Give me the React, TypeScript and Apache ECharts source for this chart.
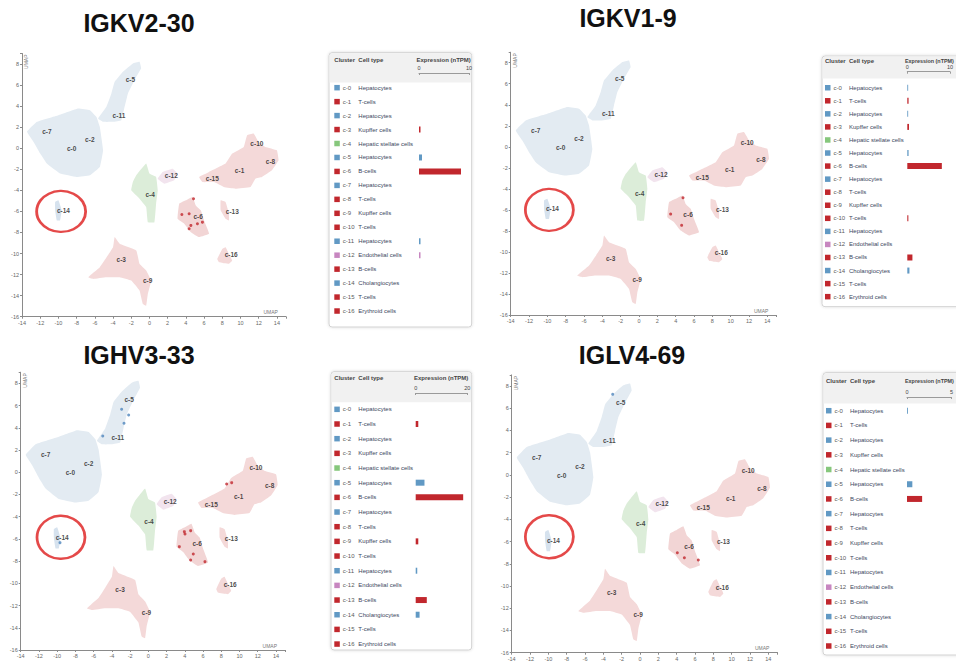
import React, { useEffect, useRef } from 'react';
import * as echarts from 'echarts';

// ---------------- data ----------------
const GENES = ['IGKV2-30', 'IGKV1-9', 'IGHV3-33', 'IGLV4-69'];
const CLUSTERS = ['c-0','c-1','c-2','c-3','c-4','c-5','c-6','c-7','c-8','c-9','c-10','c-11','c-12','c-13','c-14','c-15','c-16'];
const CELL_TYPES = ['Hepatocytes','T-cells','Hepatocytes','Kupffer cells','Hepatic stellate cells','Hepatocytes','B-cells','Hepatocytes','T-cells','Kupffer cells','T-cells','Hepatocytes','Endothelial cells','B-cells','Cholangiocytes','T-cells','Erythroid cells'];
const CELL_COLOR_KEY = ['B','R','B','R','G','B','R','B','R','R','R','B','P','R','B','R','R'];

// expression (nTPM) per cluster
const EXPR_IGKV2_30 = [0, 0, 0, 0.3, 0, 0.6, 8.4, 0, 0, 0, 0, 0.3, 0.3, 0, 0, 0, 0];
const EXPR_IGKV1_9 = [0.2, 0.3, 0.2, 0.4, 0, 0.3, 8.1, 0, 0, 0, 0.25, 0, 0, 1.2, 0.5, 0, 0];
const EXPR_IGHV3_33 = [0, 1.0, 0, 0, 0, 3.4, 18.4, 0, 0, 1.0, 0, 0.6, 0, 4.3, 1.5, 0, 0];
const EXPR_IGLV4_69 = [0.1, 0, 0, 0, 0, 0.6, 1.7, 0, 0, 0, 0, 0, 0, 0, 0, 0, 0];
const SCALE_MAX = [10, 10, 20, 5];

// UMAP cluster label positions
const LABEL_X = [-8.55, 9.9, -6.55, -3.1, 0.07, -2.1, 5.35, -11.27, 13.3, -0.2, 11.8, -3.35, 2.4, 9.1, -9.45, 6.9, 8.98];
const LABEL_Y = [-0.06, -2.16, 0.8, -10.6, -4.4, 6.54, -6.44, 1.56, -1.24, -12.6, 0.44, 3.14, -2.6, -5.97, -5.9, -2.9, -10.1];

// UMAP cluster outlines
const OUTLINE_HEP_MAIN = [[-13.45,1.56],[-12.36,2.51],[-10.0,3.14],[-7.82,3.78],[-6.55,3.62],[-5.82,2.98],[-5.45,2.03],[-5.09,-0.19],[-5.45,-1.78],[-6.55,-2.57],[-8.0,-2.73],[-9.82,-2.41],[-11.27,-1.46],[-12.0,-0.51],[-12.73,0.6]];
const OUTLINE_HEP_UPPER = [[-5.64,2.83],[-4.73,3.94],[-4.18,5.21],[-3.82,6.32],[-2.91,7.27],[-1.82,8.06],[-1.09,8.22],[-0.91,7.59],[-1.64,6.48],[-2.36,5.21],[-2.73,3.94],[-3.09,2.67],[-4.0,2.51],[-5.09,2.51]];
const OUTLINE_STELLATE = [[-1.45,-2.57],[-0.36,-1.46],[0.0,-2.41],[0.73,-2.73],[0.91,-4.0],[0.73,-5.27],[0.55,-7.02],[-0.18,-7.02],[-0.36,-5.59],[-1.09,-4.79],[-2.0,-4.0],[-1.82,-3.21]];
const OUTLINE_ENDO = [[0.91,-2.89],[1.45,-2.25],[2.55,-1.94],[3.09,-2.41],[2.73,-3.05],[1.64,-3.37]];
const OUTLINE_TCELL = [[5.45,-2.73],[6.55,-2.25],[8.36,-1.46],[9.09,-0.51],[10.36,0.13],[10.73,1.24],[11.45,1.4],[12.0,0.6],[12.73,0.13],[14.0,-0.19],[14.18,-1.14],[13.45,-2.1],[12.36,-2.73],[11.64,-2.89],[11.09,-3.68],[9.45,-3.84],[8.18,-3.68],[7.09,-3.21],[5.82,-3.21]];
const OUTLINE_BCELL = [[3.27,-5.27],[4.0,-4.95],[4.73,-4.63],[5.09,-5.43],[5.64,-5.9],[6.0,-6.86],[6.55,-8.13],[5.45,-8.44],[4.55,-7.97],[3.82,-7.17],[3.09,-6.7]];
const OUTLINE_C13 = [[7.82,-4.95],[8.36,-5.11],[8.73,-6.22],[8.73,-6.86],[8.36,-6.7],[7.82,-5.9]];
const OUTLINE_C16 = [[8.0,-9.56],[8.36,-9.4],[8.73,-10.03],[9.09,-10.67],[8.73,-10.98],[7.64,-10.83],[7.45,-10.51]];
const OUTLINE_KUPFFER = [[-6.73,-12.25],[-5.45,-11.3],[-4.0,-9.4],[-3.82,-8.44],[-3.27,-9.08],[-1.45,-9.71],[-1.09,-10.98],[-0.36,-11.62],[0.18,-12.57],[-0.18,-13.84],[-0.36,-14.95],[-0.73,-14.79],[-1.09,-13.52],[-2.0,-12.57],[-3.27,-12.25],[-4.73,-12.25],[-6.18,-12.41]];
const OUTLINE_C14 = [[-10.36,-5.11],[-10.0,-4.95],[-9.64,-5.9],[-9.82,-6.86],[-10.18,-6.86],[-10.36,-5.9]];

// highlighted cells per gene
const RED_DOTS_IGKV2_30 = [[4.84,-4.79],[3.56,-6.29],[4.36,-6.22],[4.55,-7.33],[4.36,-7.65],[5.27,-7.17],[5.82,-7.02]];
const RED_DOTS_IGKV1_9 = [[4.8,-4.84],[3.45,-6.4],[4.65,-7.47]];
const RED_DOTS_IGHV3_33 = [[3.95,-5.35],[4.64,-5.26],[4.02,-5.56],[3.4,-6.7],[4.93,-7.36],[4.64,-7.9],[6.21,-8.05],[8.59,-1.06],[9.14,-0.94]];
const RED_DOTS_IGLV4_69 = [[4.07,-7.0],[4.84,-7.45],[6.36,-7.66]];
const BLUE_DOTS_IGKV2_30: number[][] = [];
const BLUE_DOTS_IGKV1_9: number[][] = [];
const BLUE_DOTS_IGHV3_33 = [[-2.93,5.66],[-2.16,5.15],[-2.67,4.4],[-5.0,3.26],[-9.69,-6.34]];
const BLUE_DOTS_IGLV4_69 = [[-2.98,7.25]];

// circled cluster (c-14)
const CIRCLE_CENTER = [[-9.7,-6.0],[-9.78,-6.0],[-9.58,-5.86],[-9.89,-5.56]];

// ---------------- styling / layout ----------------
const FONT = 'Liberation Sans, Arial, Helvetica, sans-serif';
const KEY_COLOR: Record<string, string> = { B: '#6199c4', R: '#c1272d', G: '#86c77c', P: '#c786c0' };

const EXPRS = [EXPR_IGKV2_30, EXPR_IGKV1_9, EXPR_IGHV3_33, EXPR_IGLV4_69];
const RED_DOTS = [RED_DOTS_IGKV2_30, RED_DOTS_IGKV1_9, RED_DOTS_IGHV3_33, RED_DOTS_IGLV4_69];
const BLUE_DOTS = [BLUE_DOTS_IGKV2_30, BLUE_DOTS_IGKV1_9, BLUE_DOTS_IGHV3_33, BLUE_DOTS_IGLV4_69];

const SHAPES = [
  { pts: OUTLINE_HEP_MAIN, fill: '#e3ebf2' },
  { pts: OUTLINE_HEP_UPPER, fill: '#e3ebf2' },
  { pts: OUTLINE_STELLATE, fill: '#dcedd9' },
  { pts: OUTLINE_ENDO, fill: '#f2e4ee' },
  { pts: OUTLINE_TCELL, fill: '#f4d9d9' },
  { pts: OUTLINE_BCELL, fill: '#f2d5d5' },
  { pts: OUTLINE_C13, fill: '#f4d9d9' },
  { pts: OUTLINE_C16, fill: '#f4d9d9' },
  { pts: OUTLINE_KUPFFER, fill: '#f4d9d9' },
  { pts: OUTLINE_C14, fill: '#d6e2ee' },
];

const LAYOUT = [
  { title: [139, 23], sc: { left: 22, top: 53.5, width: 264, height: 263.2 }, circle: [49, 41],
    tbl: { left: 329, top: 52.7, right: 471.7, bottom: 327, headEnd: 82, headY: 60, lineY: 73, gridTop: 80.7, gridH: 237.3, barLeft: 419, barW: 50, sqX: 334.3, expFont: 6, expX: 416.5 } },
  { title: [628, 18], sc: { left: 510.7, top: 52.2, width: 265.8, height: 262.8 }, circle: [48, 42],
    tbl: { left: 822, top: 56, right: 1000, bottom: 306.7, headEnd: 78, headY: 60.5, lineY: 71.7, gridTop: 81.2, gridH: 222, barLeft: 907.3, barW: 50, sqX: 825, expFont: 5.4, expX: 905 } },
  { title: [139, 355], sc: { left: 20.7, top: 372.2, width: 264.4, height: 277.8 }, circle: [48, 43],
    tbl: { left: 331, top: 371.7, right: 471.7, bottom: 650, headEnd: 401.7, headY: 378.3, lineY: 393, gridTop: 402, gridH: 249.4, barLeft: 415.7, barW: 51.6, sqX: 334.3, expFont: 6, expX: 414 } },
  { title: [632, 355], sc: { left: 511.7, top: 374.9, width: 265.8, height: 277.8 }, circle: [48, 43],
    tbl: { left: 823, top: 372.7, right: 1000, bottom: 655, headEnd: 403, headY: 380.7, lineY: 397, gridTop: 403.35, gridH: 250, barLeft: 907, barW: 50, sqX: 826, expFont: 5.4, expX: 905 } },
];

function buildOption() {
  const grid: any[] = [];
  const xAxis: any[] = [];
  const yAxis: any[] = [];
  const series: any[] = [];
  const graphic: any[] = [];

  LAYOUT.forEach((L) => {
    grid.push({ left: L.sc.left, top: L.sc.top, width: L.sc.width, height: L.sc.height });
  });
  LAYOUT.forEach((L) => {
    const t = L.tbl;
    grid.push({ left: t.barLeft, top: t.gridTop, width: t.barW, height: t.gridH });
  });

  const axisCommon = {
    axisLine: { onZero: false, lineStyle: { color: '#8a8a8a', width: 1 } },
    axisTick: { length: 2, lineStyle: { color: '#8a8a8a' } },
    splitLine: { show: false },
  };

  LAYOUT.forEach((L, i) => {
    xAxis.push({
      gridIndex: i, type: 'value', min: -14, max: 15, interval: 2, ...axisCommon,
      axisLabel: { fontSize: 5.5, color: '#666', margin: 3, fontFamily: FONT,
        formatter: (v: number) => (v % 2 === 0 ? String(v) : '') },
    });
    yAxis.push({
      gridIndex: i, type: 'value', min: -16, max: 9, interval: 2, ...axisCommon,
      axisLabel: { fontSize: 5.5, color: '#666', margin: 3, fontFamily: FONT,
        formatter: (v: number) => (v % 2 === 0 ? String(v) : '') },
    });
  });

  const rich: any = {
    sqB: { width: 5.5, height: 5.5, backgroundColor: KEY_COLOR.B },
    sqR: { width: 5.5, height: 5.5, backgroundColor: KEY_COLOR.R },
    sqG: { width: 5.5, height: 5.5, backgroundColor: KEY_COLOR.G },
    sqP: { width: 5.5, height: 5.5, backgroundColor: KEY_COLOR.P },
    cl: { fontSize: 6, color: '#5a5a5a', width: 15.5, padding: [0, 0, 0, 3], fontFamily: FONT },
    ct: { fontSize: 6, color: '#3a4660', fontFamily: FONT },
  };

  LAYOUT.forEach((L, i) => {
    const t = L.tbl;
    xAxis.push({
      gridIndex: 4 + i, type: 'value', position: 'top', offset: t.gridTop - t.lineY,
      min: 0, max: SCALE_MAX[i], interval: SCALE_MAX[i],
      axisLine: { show: true, lineStyle: { color: '#9a9a9a', width: 1 } },
      axisTick: { show: true, inside: true, length: 2, lineStyle: { color: '#9a9a9a' } },
      axisLabel: { fontSize: 5.5, color: '#444', margin: 2, fontFamily: FONT },
      splitLine: { show: false },
    });
    yAxis.push({
      gridIndex: 4 + i, type: 'category', data: CLUSTERS, inverse: true,
      axisLine: { show: false }, axisTick: { show: false },
      axisLabel: {
        interval: 0, align: 'left', margin: t.barLeft - t.sqX,
        formatter: (v: string, idx: number) => `{sq${CELL_COLOR_KEY[idx]}|}{cl|${v}}{ct|${CELL_TYPES[idx]}}`,
        rich,
      },
    });
  });

  LAYOUT.forEach((L, i) => {
    series.push({
      type: 'custom', xAxisIndex: i, yAxisIndex: i, silent: true, z: 1,
      data: SHAPES.map((s) => s.pts[0]),
      renderItem: (params: any, api: any) => {
        const s = SHAPES[params.dataIndex];
        return {
          type: 'polygon',
          shape: { points: s.pts.map((p) => api.coord(p)), smooth: 0.08 },
          style: { fill: s.fill },
        };
      },
    });
    series.push({
      type: 'scatter', xAxisIndex: i, yAxisIndex: i, symbolSize: 3, z: 3,
      itemStyle: { color: '#c1272d' }, data: RED_DOTS[i],
    });
    series.push({
      type: 'scatter', xAxisIndex: i, yAxisIndex: i, symbolSize: 3, z: 3,
      itemStyle: { color: '#4f86bd' }, data: BLUE_DOTS[i],
    });
    series.push({
      type: 'scatter', xAxisIndex: i, yAxisIndex: i, symbolSize: 1, z: 4,
      itemStyle: { color: 'transparent' },
      label: { show: true, position: 'inside', formatter: '{b}', fontSize: 6.5, fontWeight: 'bold', color: '#1a1a1a', fontFamily: FONT },
      data: CLUSTERS.map((c, k) => ({ name: c, value: [LABEL_X[k], LABEL_Y[k]] })),
    });
    series.push({
      type: 'scatter', xAxisIndex: i, yAxisIndex: i, symbol: 'circle', symbolSize: L.circle, z: 5,
      itemStyle: { color: 'rgba(0,0,0,0)', borderColor: '#dd1c1c', borderWidth: 2.6 },
      data: [CIRCLE_CENTER[i]],
    });
    series.push({
      type: 'bar', xAxisIndex: 4 + i, yAxisIndex: 4 + i, barWidth: 6,
      data: EXPRS[i].map((v, k) => ({ value: v, itemStyle: { color: KEY_COLOR[CELL_COLOR_KEY[k]] } })),
    });

    graphic.push({
      type: 'text', x: L.title[0], y: L.title[1],
      style: { text: GENES[i], fontSize: 25, fontWeight: 'bold', fill: '#111', align: 'center', verticalAlign: 'middle', fontFamily: FONT },
    });
    const sc = L.sc;
    const xEnd = sc.left + (sc.width * 28) / 29;
    const yBottom = sc.top + sc.height;
    graphic.push({
      type: 'text', x: sc.left + 1.5, y: sc.top + 1, rotation: Math.PI / 2,
      style: { text: 'UMAP', fontSize: 5, fill: '#777', align: 'right', verticalAlign: 'top', fontFamily: FONT },
    });
    graphic.push({
      type: 'text', x: xEnd + 1, y: yBottom - 2,
      style: { text: 'UMAP', fontSize: 5, fill: '#777', align: 'right', verticalAlign: 'bottom', fontFamily: FONT },
    });
    const t = L.tbl;
    graphic.push({
      type: 'rect', z: -10,
      shape: { x: t.left, y: t.top, width: t.right - t.left, height: t.bottom - t.top, r: 3 },
      style: { fill: '#ffffff', stroke: '#d2d2d2', lineWidth: 1, shadowBlur: 3, shadowColor: 'rgba(0,0,0,0.15)' },
    });
    graphic.push({
      type: 'rect', z: -9,
      shape: { x: t.left + 0.5, y: t.top + 0.5, width: t.right - t.left - 1, height: t.headEnd - t.top, r: [3, 3, 0, 0] },
      style: { fill: '#f1f1f1' },
    });
    const headStyle = { fontSize: 6, fontWeight: 'bold', fill: '#444', verticalAlign: 'middle', fontFamily: FONT };
    graphic.push({ type: 'text', x: t.sqX, y: t.headY, style: { ...headStyle, text: 'Cluster' } });
    graphic.push({ type: 'text', x: t.sqX + 24, y: t.headY, style: { ...headStyle, text: 'Cell type' } });
    graphic.push({ type: 'text', x: t.expX, y: t.headY, style: { ...headStyle, fontSize: t.expFont, text: 'Expression (nTPM)' } });
  });

  return {
    animation: false,
    backgroundColor: '#ffffff',
    textStyle: { fontFamily: FONT },
    grid, xAxis, yAxis, series, graphic,
  };
}

export default function App() {
  const ref = useRef<HTMLDivElement>(null);
  useEffect(() => {
    document.body.style.margin = '0';
    if (!ref.current) return;
    const chart = echarts.init(ref.current, undefined, { renderer: 'svg' });
    chart.setOption(buildOption() as any);
    return () => chart.dispose();
  }, []);
  return <div ref={ref} style={{ width: 956, height: 662 }} />;
}
